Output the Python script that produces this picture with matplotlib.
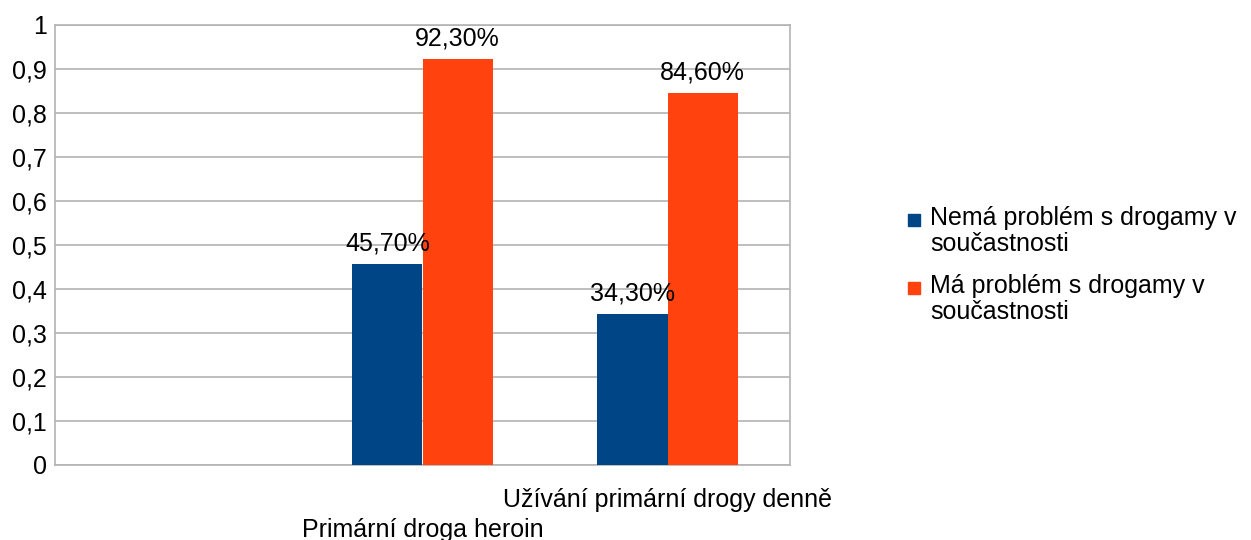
import numpy as np
import matplotlib.pyplot as plt
from matplotlib.patches import Rectangle

plt.rcParams['font.family'] = ['Liberation Sans', 'DejaVu Sans']

# Data
categories = ['', 'Primární droga heroin', 'Užívání primární drogy denně']
no_problem = [np.nan, 0.457, 0.343]
has_problem = [np.nan, 0.923, 0.846]
series_names = ['Nemá problém s drogamy v\nsoučastnosti',
                'Má problém s drogamy v\nsoučastnosti']
yticks = [0, 0.1, 0.2, 0.3, 0.4, 0.5, 0.6, 0.7, 0.8, 0.9, 1]

blue = '#004586'
orange = '#ff420e'
grid_col = '#b3b3b3'
fs = 18

W, H = 1251, 540
fig = plt.figure(figsize=(W / 100, H / 100), dpi=100)
ax = fig.add_axes([55 / W, 1 - 465 / H, 735 / W, 440 / H])

x = np.arange(len(categories))
w = 0.286
b1 = ax.bar(x - w / 2, no_problem, w, color=blue, zorder=3)
b2 = ax.bar(x + w / 2, has_problem, w, color=orange, zorder=3)

# Data labels
for bars, vals in [(b1, no_problem), (b2, has_problem)]:
    for rect, v in zip(bars, vals):
        if np.isnan(v):
            continue
        ax.annotate(('%.2f%%' % (v * 100)).replace('.', ','),
                    (rect.get_x() + rect.get_width() / 2, v),
                    xytext=(0, 6), textcoords='offset points',
                    ha='center', va='bottom', fontsize=fs, zorder=4)

ax.set_xlim(-0.5, 2.5)
ax.set_ylim(0, 1)
ax.set_yticks(yticks)
ax.set_yticklabels([('%g' % t).replace('.', ',') for t in yticks], fontsize=fs)
ax.yaxis.grid(True, color=grid_col, linewidth=1.2, zorder=0)
ax.tick_params(axis='y', length=0, pad=6)

# Staggered category labels
ax.set_xticks(x)
ax.set_xticklabels([])
ax.tick_params(axis='x', length=0)
for i, lab in enumerate(categories):
    ypos = -0.08 if i % 2 == 0 else -0.147
    ax.text(i, ypos, lab, transform=ax.get_xaxis_transform(),
            ha='center', va='center', fontsize=fs)

for s in ax.spines.values():
    s.set_color(grid_col)
    s.set_linewidth(1.2)

# Legend drawn by hand so the marker sits on the first text line
for i, (name, col) in enumerate(zip(series_names, [blue, orange])):
    yc = 220 + i * 68
    fig.add_artist(Rectangle((908 / W, 1 - (yc + 6) / H), 12 / W, 12 / H,
                             transform=fig.transFigure, color=col))
    fig.text(930 / W, 1 - (yc - 14) / H, name, ha='left', va='top',
             fontsize=fs, linespacing=1.12)

plt.savefig('out.png', dpi=100)
